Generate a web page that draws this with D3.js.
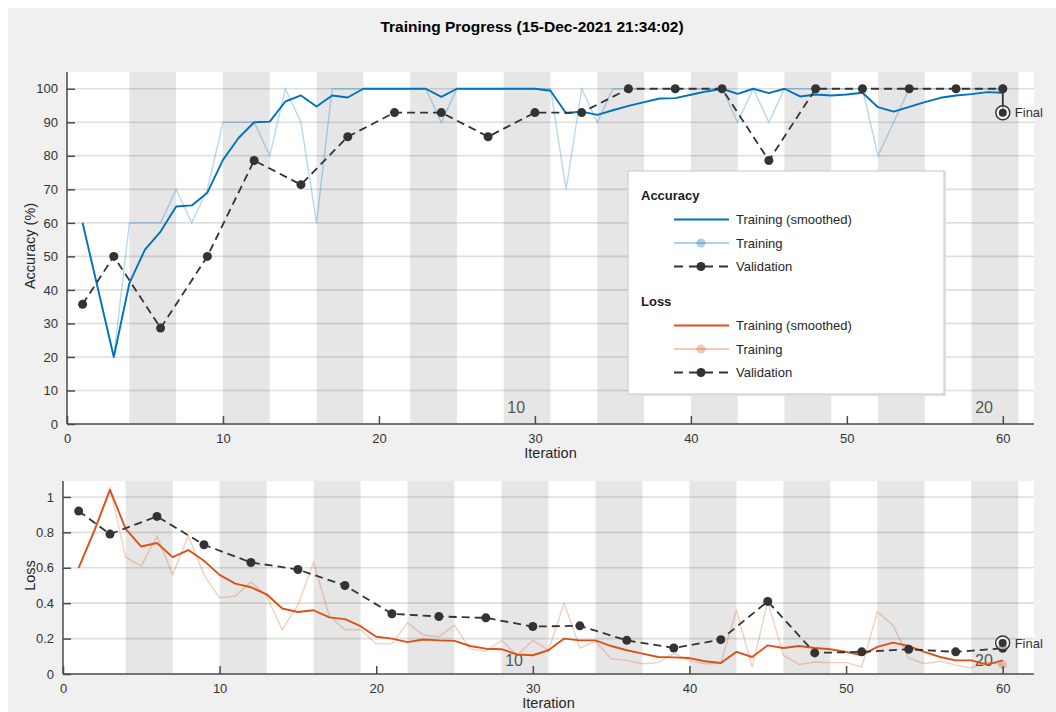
<!DOCTYPE html>
<html lang="en">
<head>
<meta charset="utf-8">
<title>Training Progress</title>
<script src="https://cdn.jsdelivr.net/npm/d3@7"></script>
<style>
  body { margin: 0; background: #fff; }
  svg text { font-family: "Liberation Sans", Arial, Helvetica, sans-serif; }
  .tick text { fill: #333; font-size: 13px; }
  .tick line { stroke: #4a4a4a; stroke-width: 1.5; }
  .axisLine { stroke: #4a4a4a; stroke-width: 1.5; }
  .grid { stroke: #000; stroke-opacity: 0.13; stroke-width: 1.6; }
  .band { fill: #e6e6e6; }
  .axisLabel { font-size: 14.5px; fill: #262626; }
  .epochLabel { font-size: 16px; fill: #555; }
  .legendText { font-size: 13px; fill: #262626; }
</style>
</head>
<body>
<script>
// iteration index and epochs (3 iterations per epoch)
var iterations = d3.range(1, 61);
var epochs = d3.range(1, 21);
var itersPerEpoch = 3;
var epochLabels = [10, 20];

// Accuracy (%)
var accSmoothed = [60, 40, 20, 42, 52, 57.4, 64.9, 65.2, 69, 78.8,
  85.3, 90, 90.2, 96.2, 98, 94.7, 98, 97.4, 100, 100,
  100, 100, 100, 97.6, 100, 100, 100, 100, 100, 100,
  99.4, 92.7, 93.2, 92.2, 93.6, 94.9, 96, 97.1, 97.2, 98.2,
  99.2, 100, 98.5, 100, 98.7, 100, 97.7, 98.3, 98, 98.3,
  98.8, 94.5, 93.2, 94.6, 96, 97.3, 98, 98.4, 99, 98.8];
var accTraining = [60, 40, 20, 60, 60, 60, 70, 60, 70, 90,
  90, 90, 80, 100, 90, 60, 100, 100, 100, 100,
  100, 100, 100, 90, 100, 100, 100, 100, 100, 100,
  100, 70, 100, 90, 100, 100, 100, 100, 100, 100,
  100, 100, 90, 100, 90, 100, 100, 100, 100, 100,
  100, 80, 90, 100, 100, 100, 100, 100, 100, 100];
var valIterations = [1, 3, 6, 9, 12, 15, 18, 21, 24, 27, 30, 33, 36, 39, 42, 45, 48, 51, 54, 57, 60];
var accValidation = [35.7, 50, 28.6, 50, 78.6, 71.4, 85.7, 92.9, 92.9, 85.7, 92.9,
  92.9, 100, 100, 100, 78.6, 100, 100, 100, 100, 100];
var accFinal = 92.86;

// Loss
var lossSmoothed = [0.60, 0.81, 1.04, 0.82, 0.72, 0.74, 0.66, 0.70, 0.64, 0.56,
  0.51, 0.49, 0.45, 0.37, 0.35, 0.36, 0.32, 0.31, 0.27, 0.21,
  0.20, 0.18, 0.195, 0.19, 0.187, 0.158, 0.143, 0.14, 0.11, 0.106,
  0.134, 0.20, 0.19, 0.19, 0.158, 0.134, 0.115, 0.096, 0.094, 0.09,
  0.072, 0.062, 0.125, 0.096, 0.162, 0.147, 0.158, 0.147, 0.14, 0.125,
  0.106, 0.153, 0.177, 0.158, 0.125, 0.096, 0.077, 0.077, 0.053, 0.077];
var lossTraining = [0.60, 0.80, 1.05, 0.66, 0.61, 0.78, 0.56, 0.78, 0.56, 0.43,
  0.44, 0.52, 0.44, 0.25, 0.39, 0.63, 0.33, 0.25, 0.25, 0.17,
  0.17, 0.29, 0.22, 0.21, 0.275, 0.14, 0.13, 0.19, 0.105, 0.19,
  0.134, 0.40, 0.147, 0.185, 0.087, 0.077, 0.058, 0.064, 0.115, 0.077,
  0.058, 0.06, 0.36, 0.04, 0.41, 0.106, 0.053, 0.068, 0.064, 0.064,
  0.04, 0.35, 0.275, 0.09, 0.058, 0.072, 0.05, 0.034, 0.068, 0.053];
var lossValidation = [0.92, 0.79, 0.89, 0.73, 0.63, 0.59, 0.50, 0.34, 0.325, 0.317, 0.268,
  0.272, 0.19, 0.147, 0.194, 0.41, 0.119, 0.125, 0.14, 0.125, 0.145];
var lossFinal = 0.175;

var xTicks = [0, 10, 20, 30, 40, 50, 60];
var accTicks = [0, 10, 20, 30, 40, 50, 60, 70, 80, 90, 100];
var lossTicks = [0, 0.2, 0.4, 0.6, 0.8, 1];

var w = 1056, h = 712;
var blue = "#0072BD", orange = "#D95319", valColor = "#333333";

var svg = d3.select("body").append("svg")
  .attr("width", w).attr("height", h);

svg.append("rect").attr("x", 8).attr("y", 8)
  .attr("width", w - 8).attr("height", h - 8).attr("fill", "#f0f0f0");

svg.append("text")
  .attr("x", 532).attr("y", 32)
  .attr("text-anchor", "middle")
  .style("font-size", "15.5px").style("font-weight", "bold").attr("fill", "#000")
  .text("Training Progress (15-Dec-2021 21:34:02)");

function drawPanel(cfg) {
  var x = d3.scaleLinear().domain([0, 62]).range([cfg.left, cfg.right]);
  var y = d3.scaleLinear().domain(cfg.yDomain).range([cfg.bottom, cfg.top]);
  var g = svg.append("g");

  g.append("rect").attr("x", cfg.left).attr("y", cfg.top)
    .attr("width", cfg.right - cfg.left).attr("height", cfg.bottom - cfg.top)
    .attr("fill", "#fff");

  //epoch shading
  g.selectAll(".band").data(epochs.filter(function(e) { return e % 2 === 0; }))
    .enter().append("rect").attr("class", "band")
    .attr("x", function(e) { return x((e - 1) * itersPerEpoch + 1); })
    .attr("width", function(e) { return x(e * itersPerEpoch + 1) - x((e - 1) * itersPerEpoch + 1); })
    .attr("y", cfg.top).attr("height", cfg.bottom - cfg.top);

  g.selectAll(".epochLabel").data(epochLabels).enter().append("text")
    .attr("class", "epochLabel")
    .attr("x", function(e) { return x((e - 1) * itersPerEpoch + 1 + 0.8); })
    .attr("y", cfg.bottom - cfg.epochOffset)
    .attr("text-anchor", "middle")
    .text(function(e) { return e; });

  //grid
  g.selectAll(".grid").data(cfg.ticks.filter(function(t) { return t > 0; }))
    .enter().append("line").attr("class", "grid")
    .attr("x1", cfg.left).attr("x2", cfg.right)
    .attr("y1", function(t) { return y(t); }).attr("y2", function(t) { return y(t); });

  var line = d3.line()
    .x(function(d, i) { return x(iterations[i]); })
    .y(function(d) { return y(d); });

  g.append("path").datum(cfg.raw)
    .attr("fill", "none").attr("stroke", cfg.color).attr("stroke-opacity", 0.28)
    .attr("stroke-width", 1.4).attr("d", line);

  g.append("path").datum(cfg.smooth)
    .attr("fill", "none").attr("stroke", cfg.color)
    .attr("stroke-width", 1.9).attr("stroke-linejoin", "round").attr("d", line);

  g.append("circle")
    .attr("cx", x(iterations[iterations.length - 1]))
    .attr("cy", y(cfg.raw[cfg.raw.length - 1]))
    .attr("r", 4.5).attr("fill", cfg.color).attr("fill-opacity", 0.28);

  var valLine = d3.line()
    .x(function(d, i) { return x(valIterations[i]); })
    .y(function(d) { return y(d); });

  g.append("path").datum(cfg.val)
    .attr("fill", "none").attr("stroke", valColor).attr("stroke-width", 1.8)
    .attr("stroke-dasharray", "8,5").attr("d", valLine);

  g.selectAll(".valDot").data(cfg.val).enter().append("circle")
    .attr("cx", function(d, i) { return x(valIterations[i]); })
    .attr("cy", function(d) { return y(d); })
    .attr("r", 4.5).attr("fill", valColor);

  //final validation value
  var lastIt = valIterations[valIterations.length - 1];
  g.append("line")
    .attr("x1", x(lastIt)).attr("x2", x(lastIt))
    .attr("y1", y(cfg.val[cfg.val.length - 1])).attr("y2", y(cfg.final))
    .attr("stroke", valColor).attr("stroke-width", 1.8);
  g.append("circle").attr("cx", x(lastIt)).attr("cy", y(cfg.final))
    .attr("r", 7).attr("fill", "#fff").attr("fill-opacity", 0.6)
    .attr("stroke", valColor).attr("stroke-width", 1.4);
  g.append("circle").attr("cx", x(lastIt)).attr("cy", y(cfg.final))
    .attr("r", 4).attr("fill", valColor);
  g.append("text").attr("x", x(lastIt) + 12).attr("y", y(cfg.final))
    .attr("dy", "0.35em").style("font-size", "13px").attr("fill", "#333")
    .text("Final");

  //axes
  var xAxis = d3.axisBottom(x).tickValues(xTicks).tickSize(-8).tickPadding(8);
  var yAxis = d3.axisLeft(y).tickValues(cfg.ticks).tickSize(-8).tickPadding(9)
    .tickFormat(function(d) { return String(d); });

  var gx = g.append("g").attr("transform", "translate(0," + cfg.bottom + ")").call(xAxis);
  var gy = g.append("g").attr("transform", "translate(" + cfg.left + ",0)").call(yAxis);
  gx.select(".domain").remove();
  gy.select(".domain").remove();
  gx.selectAll("text").attr("dy", "0.85em");

  g.append("line").attr("class", "axisLine")
    .attr("x1", cfg.left).attr("x2", cfg.right)
    .attr("y1", cfg.bottom).attr("y2", cfg.bottom);
  g.append("line").attr("class", "axisLine")
    .attr("x1", cfg.left).attr("x2", cfg.left)
    .attr("y1", cfg.top).attr("y2", cfg.bottom);

  g.append("text").attr("class", "axisLabel")
    .attr("x", (cfg.left + cfg.right) / 2).attr("y", cfg.bottom + 34)
    .attr("text-anchor", "middle").text("Iteration");
  g.append("text").attr("class", "axisLabel")
    .attr("transform", "translate(35," + ((cfg.top + cfg.bottom) / 2 - 2) + ") rotate(-90)")
    .attr("text-anchor", "middle").text(cfg.yLabel);
}

drawPanel({
  left: 67, right: 1034, top: 72, bottom: 424,
  yDomain: [0, 105], ticks: accTicks, yLabel: "Accuracy (%)",
  raw: accTraining, smooth: accSmoothed, val: accValidation, final: accFinal,
  color: blue, epochOffset: 11
});

drawPanel({
  left: 63, right: 1034, top: 481, bottom: 674,
  yDomain: [0, 1.09], ticks: lossTicks, yLabel: "Loss",
  raw: lossTraining, smooth: lossSmoothed, val: lossValidation, final: lossFinal,
  color: orange, epochOffset: 8
});

//legend
var legend = svg.append("g").attr("transform", "translate(628,171)");
legend.append("rect").attr("x", 1).attr("y", 1).attr("width", 316).attr("height", 223)
  .attr("fill", "none").attr("stroke", "#e2e2e2").attr("stroke-width", 2);
legend.append("rect").attr("width", 316).attr("height", 223)
  .attr("fill", "#fff").attr("stroke", "#d0d0d0").attr("stroke-width", 1.2);

var legendGroups = [
  { title: "Accuracy", y: 29, color: blue },
  { title: "Loss", y: 135, color: orange }
];
var legendRows = ["Training (smoothed)", "Training", "Validation"];

legendGroups.forEach(function(grp) {
  legend.append("text").attr("x", 13).attr("y", grp.y)
    .style("font-size", "13px").style("font-weight", "bold").attr("fill", "#1a1a1a")
    .text(grp.title);
  legendRows.forEach(function(name, i) {
    var cy = grp.y + 19.5 + i * 23.5;
    var row = legend.append("g");
    if (i === 0) {
      row.append("line").attr("x1", 46).attr("x2", 101).attr("y1", cy).attr("y2", cy)
        .attr("stroke", grp.color).attr("stroke-width", 1.9);
    } else if (i === 1) {
      row.append("line").attr("x1", 46).attr("x2", 101).attr("y1", cy).attr("y2", cy)
        .attr("stroke", grp.color).attr("stroke-opacity", 0.32).attr("stroke-width", 2);
      row.append("circle").attr("cx", 73).attr("cy", cy).attr("r", 4.5)
        .attr("fill", grp.color).attr("fill-opacity", 0.32);
    } else {
      row.append("line").attr("x1", 46).attr("x2", 101).attr("y1", cy).attr("y2", cy)
        .attr("stroke", valColor).attr("stroke-width", 1.8).attr("stroke-dasharray", "9,6");
      row.append("circle").attr("cx", 73).attr("cy", cy).attr("r", 4.5).attr("fill", valColor);
    }
    row.append("text").attr("class", "legendText").attr("x", 108).attr("y", cy)
      .attr("dy", "0.35em").text(name);
  });
});
</script>
</body>
</html>
